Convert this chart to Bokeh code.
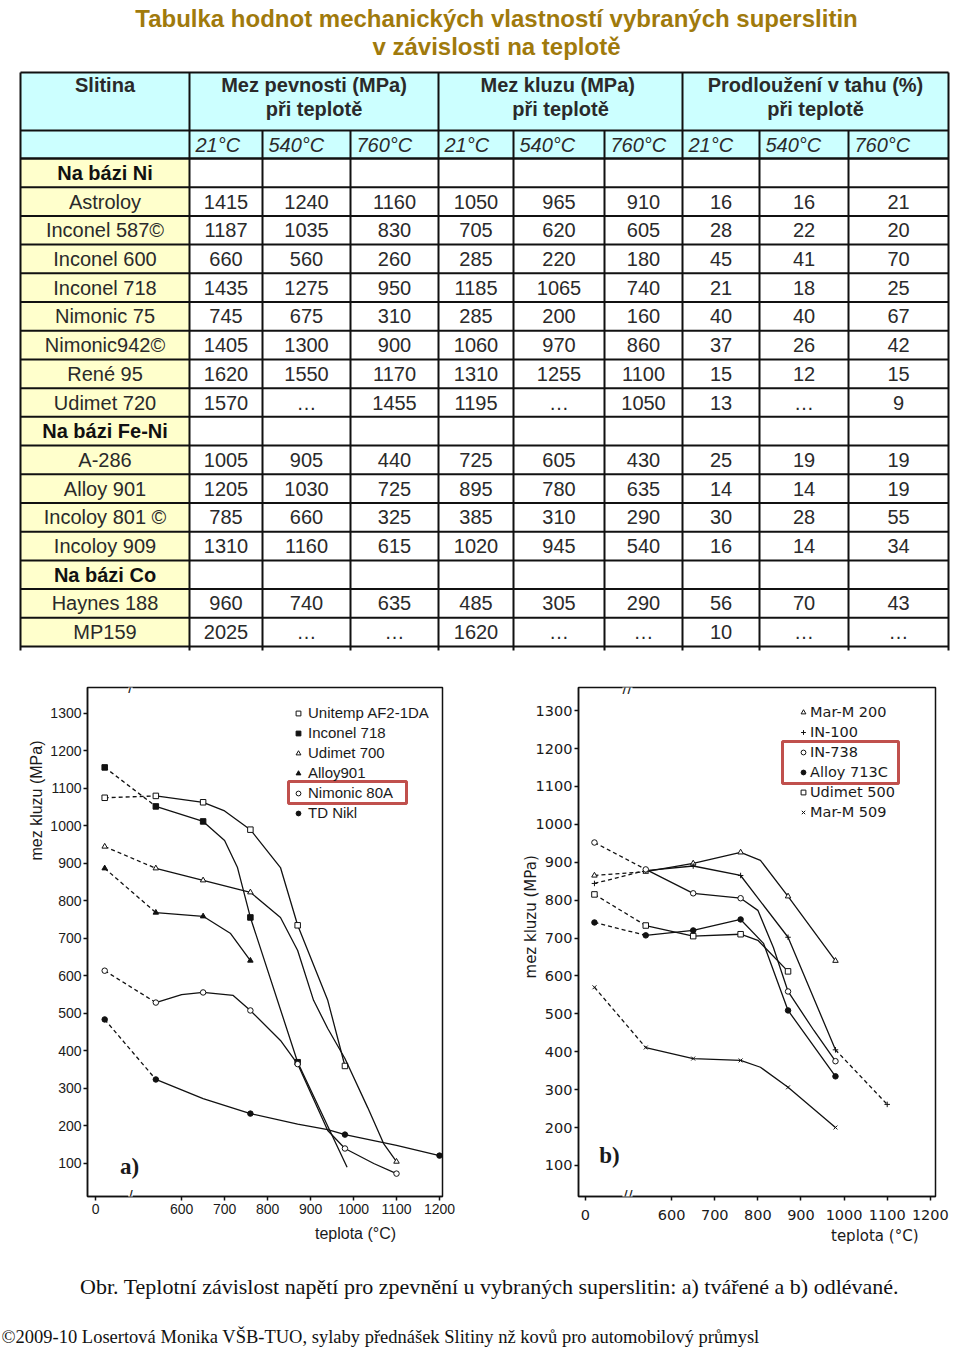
from bokeh.plotting import figure
from bokeh.layouts import column, row
from bokeh.models import (Range1d, FixedTicker, Label, Legend, LegendItem,
                          BoxAnnotation, Title)
from bokeh.core.properties import value
from bokeh.embed import file_html
from bokeh.resources import INLINE

# ------------------------------------------------------------------ texts
TITLE_1 = "Tabulka hodnot mechanických vlastností vybraných superslitin"
TITLE_2 = "v závislosti na teplotě"
HEAD_ALLOY = "Slitina"
HEAD_GROUPS = ["Mez pevnosti (MPa)", "Mez kluzu  (MPa)", "Prodloužení v tahu (%)"]
HEAD_SUB = "při teplotě"
HEAD_TEMPS = ["21°C", "540°C", "760°C"]
CAPTION = "Obr. Teplotní závislost napětí pro zpevnění u vybraných superslitin: a) tvářené a b) odlévané."
FOOTER = "©2009-10  Losertová Monika  VŠB-TUO, sylaby přednášek Slitiny nž kovů pro automobilový průmysl"

# ------------------------------------------------------------------ table data
alloys = ["Na bázi Ni", "Astroloy", "Inconel 587©", "Inconel 600", "Inconel 718",
          "Nimonic 75", "Nimonic942©", "René 95", "Udimet 720", "Na bázi Fe-Ni",
          "A-286", "Alloy 901", "Incoloy 801 ©", "Incoloy 909", "Na bázi Co",
          "Haynes 188", "MP159"]
is_group = [True, False, False, False, False, False, False, False, False, True,
            False, False, False, False, True, False, False]
N = None
M = "…"
uts_21 = [N, 1415, 1187, 660, 1435, 745, 1405, 1620, 1570, N, 1005, 1205, 785, 1310, N, 960, 2025]
uts_540 = [N, 1240, 1035, 560, 1275, 675, 1300, 1550, M, N, 905, 1030, 660, 1160, N, 740, M]
uts_760 = [N, 1160, 830, 260, 950, 310, 900, 1170, 1455, N, 440, 725, 325, 615, N, 635, M]
ys_21 = [N, 1050, 705, 285, 1185, 285, 1060, 1310, 1195, N, 725, 895, 385, 1020, N, 485, 1620]
ys_540 = [N, 965, 620, 220, 1065, 200, 970, 1255, M, N, 605, 780, 310, 945, N, 305, M]
ys_760 = [N, 910, 605, 180, 740, 160, 860, 1100, 1050, N, 430, 635, 290, 540, N, 290, M]
el_21 = [N, 16, 28, 45, 21, 40, 37, 15, 13, N, 25, 14, 30, 16, N, 56, 10]
el_540 = [N, 16, 22, 41, 18, 40, 26, 12, M, N, 19, 14, 28, 14, N, 70, M]
el_760 = [N, 21, 20, 70, 25, 67, 42, 15, 9, N, 19, 19, 55, 34, N, 43, M]
table_cols = [uts_21, uts_540, uts_760, ys_21, ys_540, ys_760, el_21, el_540, el_760]

# ------------------------------------------------------------------ chart a (tvářené)
a_names = ["Unitemp AF2-1DA", "Inconel 718", "Udimet 700", "Alloy901", "Nimonic 80A", "TD Nikl"]
a_markers = ["square", "square", "triangle", "triangle", "circle", "circle"]
a_filled = [False, True, False, True, False, True]
unitemp_lt = [21, 540, 650, 700, 760, 830, 870, 940, 980]
unitemp_lv = [1075, 1080, 1063, 1040, 990, 889, 735, 535, 360]
unitemp_mt = [21, 540, 650, 760, 870, 980]
unitemp_mv = [1075, 1080, 1063, 990, 735, 360]
in718_lt = [21, 540, 650, 700, 730, 760, 870, 985]
in718_lv = [1156, 1052, 1012, 961, 889, 756, 370, 90]
in718_mt = [21, 540, 650, 760, 870]
in718_mv = [1156, 1052, 1012, 756, 370]
u700_lt = [21, 540, 650, 760, 830, 870, 907, 940, 980, 1033, 1070, 1100]
u700_lv = [945, 887, 855, 823, 756, 668, 535, 460, 380, 249, 153, 105]
u700_mt = [21, 540, 650, 760, 1100]
u700_mv = [945, 887, 855, 823, 105]
a901_lt = [21, 540, 650, 714, 760]
a901_lv = [887, 769, 759, 713, 641]
a901_mt = [21, 540, 650, 760]
a901_mv = [887, 769, 759, 641]
n80a_lt = [21, 540, 600, 650, 720, 760, 830, 870, 940, 980, 1047, 1100]
n80a_lv = [614, 529, 550, 556, 548, 508, 428, 365, 188, 140, 100, 73]
n80a_mt = [21, 540, 650, 760, 870, 980, 1100]
n80a_mv = [614, 529, 556, 508, 365, 140, 73]
tdni_lt = [21, 540, 650, 760, 870, 940, 980, 1100, 1200]
tdni_lv = [484, 324, 273, 233, 205, 190, 177, 148, 121]
tdni_mt = [21, 540, 760, 980, 1200]
tdni_mv = [484, 324, 233, 177, 121]
a_lines = [(unitemp_lt, unitemp_lv), (in718_lt, in718_lv), (u700_lt, u700_lv),
           (a901_lt, a901_lv), (n80a_lt, n80a_lv), (tdni_lt, tdni_lv)]
a_marks = [(unitemp_mt, unitemp_mv), (in718_mt, in718_mv), (u700_mt, u700_mv),
           (a901_mt, a901_mv), (n80a_mt, n80a_mv), (tdni_mt, tdni_mv)]

# ------------------------------------------------------------------ chart b (odlévané)
b_names = ["Mar-M 200", "IN-100", "IN-738", "Alloy 713C", "Udimet 500", "Mar-M 509"]
b_markers = ["triangle", "cross", "circle", "circle", "square", "x"]
b_filled = [False, True, False, True, False, True]
mm200_lt = [21, 540, 650, 760, 806, 870, 980]
mm200_lv = [865, 875, 897, 926, 905, 810, 640]
mm200_mt = [21, 540, 650, 760, 870, 980]
mm200_mv = [865, 875, 897, 926, 810, 640]
in100_lt = [21, 540, 650, 760, 870, 980, 1100]
in100_lv = [844, 878, 890, 865, 702, 405, 261]
in100_mt = [21, 540, 650, 760, 870, 980, 1100]
in100_mv = [844, 878, 890, 865, 702, 405, 261]
in738_lt = [21, 540, 650, 760, 800, 836, 870, 930, 980]
in738_lv = [952, 881, 818, 805, 773, 675, 559, 456, 375]
in738_mt = [21, 540, 650, 760, 870, 980]
in738_mv = [952, 881, 818, 805, 559, 375]
a713_lt = [21, 540, 650, 760, 813, 870, 980]
a713_lv = [741, 707, 720, 749, 686, 509, 335]
a713_mt = [21, 540, 650, 760, 870, 980]
a713_mv = [741, 707, 720, 749, 509, 335]
u500_lt = [21, 540, 650, 760, 800, 870]
u500_lv = [815, 733, 705, 710, 694, 612]
u500_mt = [21, 540, 650, 760, 870]
u500_mv = [815, 733, 705, 710, 612]
mm509_lt = [21, 540, 650, 760, 806, 870, 980]
mm509_lv = [570, 411, 382, 377, 359, 306, 200]
mm509_mt = [21, 540, 650, 760, 870, 980]
mm509_mv = [570, 411, 382, 377, 306, 200]
b_lines = [(mm200_lt, mm200_lv), (in100_lt, in100_lv), (in738_lt, in738_lv),
           (a713_lt, a713_lv), (u500_lt, u500_lv), (mm509_lt, mm509_lv)]
b_marks = [(mm200_mt, mm200_mv), (in100_mt, in100_mv), (in738_mt, in738_mv),
           (a713_mt, a713_mv), (u500_mt, u500_mv), (mm509_mt, mm509_mv)]
b_dash_tail = [0, 1, 0, 0, 0, 0]   # IN-100: last segment dashed

y_ticks = list(range(100, 1301, 100))
x_ticks = [0, 600, 700, 800, 900, 1000, 1100, 1200]

# ------------------------------------------------------------------ styles / layout constants
TITLE_C = "#A07A0C"
HDR_BG = "#CCFFFF"
ALLOY_BG = "#FFFFCC"
TXT = "#2a2a2a"
RED = "#C0504D"
SANS = value("Liberation Sans")
SERIF = value("Liberation Serif")

X_BOUNDS = [20, 189, 262, 350, 438, 513, 604, 682, 759, 848, 948]
T_TOP, T_H1, T_H2, T_BOT = 72, 130, 158, 646
ROW_H = (T_BOT - T_H2) / len(alloys)

BREAK_SHIFT = 400  # low-temperature segment shown left of the axis break


def disp(ts):
    return [t + BREAK_SHIFT if t < 300 else t for t in ts]


# ================================================================== table figure
ft = figure(width=960, height=658, x_range=Range1d(0, 960), y_range=Range1d(658, 0),
            output_backend="svg", toolbar_location=None, min_border=0, title=None,
            x_axis_type=None, y_axis_type=None)
ft.xgrid.visible = False
ft.ygrid.visible = False
ft.outline_line_color = None

ft.text(x=[496, 496], y=[18, 46], text=[TITLE_1, TITLE_2], text_font=SANS,
        text_font_style="bold", text_font_size="24px", text_color=TITLE_C,
        text_align="center", text_baseline="middle")

ft.quad(left=[X_BOUNDS[0]], right=[X_BOUNDS[-1]], top=[T_TOP], bottom=[T_H2],
        fill_color=HDR_BG, line_color=None)
ft.quad(left=[X_BOUNDS[0]], right=[X_BOUNDS[1]], top=[T_H2], bottom=[T_BOT],
        fill_color=ALLOY_BG, line_color=None)

row_tops = [T_H2 + i * ROW_H for i in range(len(alloys) + 1)]
hx0 = [X_BOUNDS[0]] * (3 + len(row_tops))
hx1 = [X_BOUNDS[-1]] * (3 + len(row_tops))
hy = [T_TOP, T_H1, T_H2] + row_tops
ft.segment(x0=hx0, y0=hy, x1=hx1, y1=hy, line_color="#111111", line_width=2)
major = [X_BOUNDS[0], X_BOUNDS[1], X_BOUNDS[4], X_BOUNDS[7], X_BOUNDS[10]]
minor = [X_BOUNDS[i] for i in (2, 3, 5, 6, 8, 9)]
ft.segment(x0=major, y0=[T_TOP] * len(major), x1=major, y1=[T_BOT + 4] * len(major),
           line_color="#111111", line_width=2)
ft.segment(x0=minor, y0=[T_H1] * len(minor), x1=minor, y1=[T_BOT + 4] * len(minor),
           line_color="#111111", line_width=2)

# header texts
gx = [(X_BOUNDS[1] + X_BOUNDS[4]) / 2, (X_BOUNDS[4] + X_BOUNDS[7]) / 2, (X_BOUNDS[7] + X_BOUNDS[10]) / 2]
ft.text(x=[(X_BOUNDS[0] + X_BOUNDS[1]) / 2] + gx + gx,
        y=[84] + [84] * 3 + [108] * 3,
        text=[HEAD_ALLOY] + HEAD_GROUPS + [HEAD_SUB] * 3,
        text_font=SANS, text_font_style="bold", text_font_size="20px",
        text_color=TXT, text_align="center", text_baseline="middle")
ft.text(x=[X_BOUNDS[i] + 6 for i in range(1, 10)], y=[144] * 9, text=HEAD_TEMPS * 3,
        text_font=SANS, text_font_style="italic", text_font_size="20px",
        text_color=TXT, text_align="left", text_baseline="middle")

# alloy names
centers_y = [T_H2 + (i + 0.5) * ROW_H for i in range(len(alloys))]
ax_c = (X_BOUNDS[0] + X_BOUNDS[1]) / 2
ft.text(x=[ax_c] * sum(is_group), y=[c for c, g in zip(centers_y, is_group) if g],
        text=[a for a, g in zip(alloys, is_group) if g], text_font=SANS,
        text_font_style="bold", text_font_size="20px", text_color="#111111",
        text_align="center", text_baseline="middle")
ft.text(x=[ax_c] * (len(alloys) - sum(is_group)),
        y=[c for c, g in zip(centers_y, is_group) if not g],
        text=[a for a, g in zip(alloys, is_group) if not g], text_font=SANS,
        text_font_size="20px", text_color=TXT, text_align="center", text_baseline="middle")

cx, cy, ct = [], [], []
for j, col in enumerate(table_cols):
    xc = (X_BOUNDS[j + 1] + X_BOUNDS[j + 2]) / 2
    for i, v in enumerate(col):
        if v is None:
            continue
        cx.append(xc)
        cy.append(centers_y[i])
        ct.append(str(v))
ft.text(x=cx, y=cy, text=ct, text_font=SANS, text_font_size="20px", text_color=TXT,
        text_align="center", text_baseline="middle")


# ================================================================== charts
CH_H = 602


def make_chart(width, frame, xr, yr, lines, marks, names, markers, filled, font,
               tick_size, x_standoff, dash_tail=None):
    left, right, top, bottom = frame
    p = figure(width=width, height=CH_H, x_range=Range1d(*xr), y_range=Range1d(*yr),
               output_backend="svg", toolbar_location=None, title=None,
               min_border_left=left, min_border_right=width - right,
               min_border_top=top, min_border_bottom=CH_H - bottom)
    p.xgrid.visible = False
    p.ygrid.visible = False
    p.outline_line_color = "#111111"
    p.outline_line_width = 1.5
    p.yaxis.ticker = FixedTicker(ticks=y_ticks)
    p.xaxis.ticker = FixedTicker(ticks=disp(x_ticks))
    p.xaxis.major_label_overrides = {BREAK_SHIFT: "0"}
    for ax in p.axis:
        ax.axis_line_color = "#111111"
        ax.axis_line_width = 1.5
        ax.major_tick_line_color = "#111111"
        ax.major_tick_line_width = 1.5
        ax.major_tick_out = 4
        ax.major_tick_in = 0
        ax.minor_tick_line_color = None
        ax.major_label_text_font = font
        ax.major_label_text_font_size = tick_size
        ax.major_label_text_color = "#1a1a1a"
    p.yaxis.major_label_standoff = 2
    p.xaxis.major_label_standoff = x_standoff

    items = []
    for k, ((lt, lv), (mt, mv)) in enumerate(zip(lines, marks)):
        dx = disp(lt)
        p.line(dx[:2], lv[:2], line_color="#111111", line_width=1.3, line_dash="4 3")
        tail = dash_tail[k] if dash_tail else 0
        end = len(dx) - tail
        p.line(dx[1:end], lv[1:end], line_color="#111111", line_width=1.3)
        if tail:
            p.line(dx[end - 1:], lv[end - 1:], line_color="#111111", line_width=1.3,
                   line_dash="4 3")
        r = p.scatter(disp(mt), mv, marker=markers[k], size=5.5,
                      fill_color="#111111" if filled[k] else "white",
                      line_color="#111111", line_width=1)
        items.append(LegendItem(label=names[k], renderers=[r]))
    return p, items


A_FRAME = (87, 442, 29, 538)          # left, right, top, bottom inside figure a
A_XR, A_YR = (381, 1207), (12, 1369)
B_FRAME = (90, 447, 29, 538)
B_XR, B_YR = (384, 1212), (18, 1361)
A_OFF, B_OFF, CH_TOP = 0, 488, 658     # page offsets of the figures


def page_to_data(frame, xr, yr, xoff, px, py):
    left, right, top, bottom = frame
    fx, fy = px - xoff, py - CH_TOP
    x = xr[0] + (fx - left) * (xr[1] - xr[0]) / (right - left)
    y = yr[1] - (fy - top) * (yr[1] - yr[0]) / (bottom - top)
    return x, y


def add_label(p, conv, px, py, text, font, size, style="normal", bg=None):
    x, y = conv(px, py)
    p.add_layout(Label(x=x, y=y, text=text, text_font=font, text_font_size=size,
                       text_font_style=style, text_align="center",
                       text_baseline="middle", text_color="#1a1a1a",
                       background_fill_color=bg))


def add_titles(p, ytext, yoff, ystand, xtext, xoff, xstand, font, size):
    p.add_layout(Title(text=ytext, align="right", offset=yoff, standoff=ystand,
                       text_font=font, text_font_size=size, text_font_style="normal",
                       text_color="#1a1a1a"), "left")
    p.add_layout(Title(text=xtext, align="right", offset=xoff, standoff=xstand,
                       text_font=font, text_font_size=size, text_font_style="normal",
                       text_color="#1a1a1a"), "below")


# ---- chart a
fa, a_items = make_chart(488, A_FRAME, A_XR, A_YR, a_lines, a_marks, a_names,
                         a_markers, a_filled, "Liberation Sans", "14px", 3)
conv_a = lambda px, py: page_to_data(A_FRAME, A_XR, A_YR, A_OFF, px, py)
leg_a = Legend(items=a_items, location=(205, 375), glyph_width=12, glyph_height=14,
               label_height=14, spacing=3, padding=0, label_standoff=4,
               label_text_font="Liberation Sans", label_text_font_size="15px",
               label_text_color="#1a1a1a", background_fill_alpha=0, border_line_alpha=0)
fa.add_layout(leg_a)
bx0, by0 = conv_a(288, 781)
bx1, by1 = conv_a(406, 803)
fa.add_layout(BoxAnnotation(left=bx0, right=bx1, top=by0, bottom=by1, fill_alpha=0,
                            line_color=RED, line_alpha=1, line_width=3))
add_titles(fa, "mez kluzu (MPa)", 53, 6, "teplota  (°C)", 42, 12, "Liberation Sans", "16px")
add_label(fa, conv_a, 129, 1166, "a)", "Liberation Serif", "23px", style="bold")
for py in (687, 1196):
    add_label(fa, conv_a, 130, py, "/", "Liberation Sans", "16px", bg="white")

# ---- chart b
fb, b_items = make_chart(472, B_FRAME, B_XR, B_YR, b_lines, b_marks, b_names,
                         b_markers, b_filled, "DejaVu Sans", "14.5px", 9, b_dash_tail)
conv_b = lambda px, py: page_to_data(B_FRAME, B_XR, B_YR, B_OFF, px, py)
leg_b = Legend(items=b_items, location=(219, 376), glyph_width=12, glyph_height=14,
               label_height=14, spacing=4, padding=0, label_standoff=1,
               label_text_font="DejaVu Sans", label_text_font_size="14.5px",
               label_text_color="#1a1a1a", background_fill_alpha=0, border_line_alpha=0)
fb.add_layout(leg_b)
bx0, by0 = conv_b(782, 741)
bx1, by1 = conv_b(898, 783)
fb.add_layout(BoxAnnotation(left=bx0, right=bx1, top=by0, bottom=by1, fill_alpha=0,
                            line_color=RED, line_alpha=1, line_width=3))
add_titles(fb, "mez kluzu  (MPa)", 163, -14, "teplota (°C)", 17, 4, "DejaVu Sans", "15px")
add_label(fb, conv_b, 609, 1155, "b)", "Liberation Serif", "23px", style="bold")
for py in (687, 1196):
    add_label(fb, conv_b, 627, py, "//", "DejaVu Sans", "15px", bg="white")

# ================================================================== caption figure
fc = figure(width=960, height=88, x_range=Range1d(0, 960), y_range=Range1d(1348, 1260),
            output_backend="svg", toolbar_location=None, min_border=0, title=None,
            x_axis_type=None, y_axis_type=None)
fc.xgrid.visible = False
fc.ygrid.visible = False
fc.outline_line_color = None
fc.text(x=[489], y=[1286], text=[CAPTION], text_font=SERIF, text_font_size="22px",
        text_color="#111111", text_align="center", text_baseline="middle")
fc.text(x=[1], y=[1336], text=[FOOTER], text_font=SERIF, text_font_size="18.5px",
        text_color="#111111", text_align="left", text_baseline="middle")

layout = column(ft, row(fa, fb), fc)
open("out.html", "w").write(file_html(layout, INLINE))
